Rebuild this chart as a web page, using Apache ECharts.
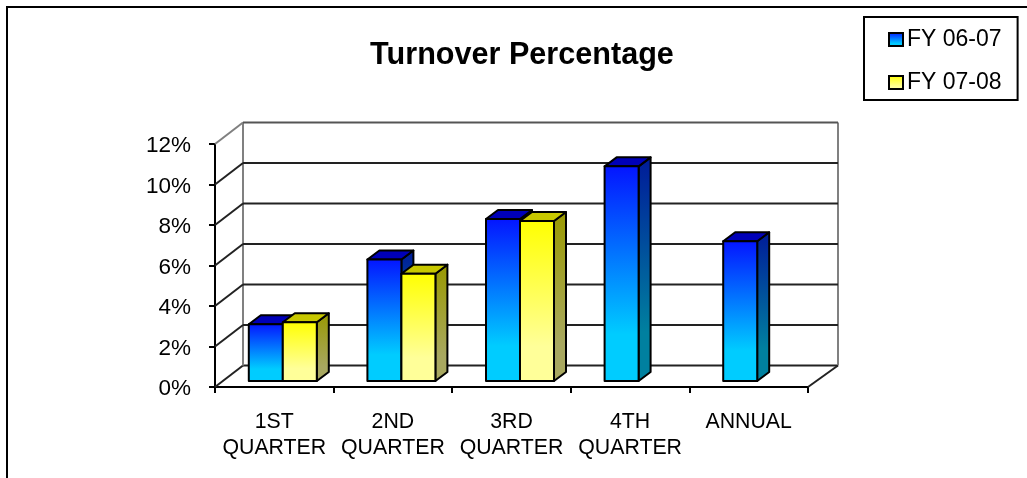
<!DOCTYPE html>
<html lang="en">
<head>
  <meta charset="UTF-8">
  <title>Turnover Percentage</title>
  <script src="https://cdn.jsdelivr.net/npm/echarts@6/dist/echarts.min.js"></script>
  <style>
    html, body { margin: 0; padding: 0; background: #fff; }
    #main { width: 1027px; height: 478px; }
  </style>
</head>
<body>
<div id="main"></div>
<script>
  let categories = ['1ST\nQUARTER', '2ND\nQUARTER', '3RD\nQUARTER', '4TH\nQUARTER', 'ANNUAL']
  let fy0607 = [2.8, 6.0, 8.0, 10.6, 6.9]
  let fy0708 = [2.9, 5.3, 7.9, null, null]
  let yTicks = [0, 2, 4, 6, 8, 10, 12]

  // 3d look, in pixels
  let wallDx = 28, wallDy = 21.5
  let barW = 34, barDx = 12, barDy = 9, barLift = 6, groupShift = 8.5

  function grad(c1, c2) {
    return {type: 'linear', x: 0, y: 0, x2: 0, y2: 1, colorStops: [{offset: 0, color: c1}, {offset: 0.78, color: c2}, {offset: 1, color: c2}]}
  }
  let blue = {front: grad('#0414ff', '#00ccff'), side: grad('#001a99', '#00809f'), top: '#0000b8'}
  let yellow = {front: grad('#ffff00', '#ffff99'), side: grad('#999900', '#a8a860'), top: '#c8c800'}

  function barRender(colors, slot) {
    return function (params, api) {
      let v = api.value(1)
      if (v == null || isNaN(v)) return
      let p = api.coord([api.value(0), v])
      let base = api.coord([api.value(0), 0])
      let x0 = p[0] + groupShift + (slot - 1) * barW
      let x1 = x0 + barW
      let yT = p[1] - barLift
      let yB = base[1] - barLift
      let line = {stroke: '#000', lineWidth: 2, lineJoin: 'round'}
      return {
        type: 'group',
        children: [
          {type: 'polygon', shape: {points: [[x1, yT], [x1 + barDx, yT - barDy], [x1 + barDx, yB - barDy], [x1, yB]]}, style: {fill: colors.side, ...line}},
          {type: 'polygon', shape: {points: [[x0, yT], [x0 + barDx, yT - barDy], [x1 + barDx, yT - barDy], [x1, yT]]}, style: {fill: colors.top, ...line}},
          {type: 'polygon', shape: {points: [[x0, yT], [x1, yT], [x1, yB], [x0, yB]]}, style: {fill: colors.front, ...line}}
        ]
      }
    }
  }

  // gridlines on the back wall plus the diagonals on the side wall
  function wallRender(params, api) {
    let v = api.value(0)
    let band = api.size([1, 0])[0]
    let n = categories.length
    let left = api.coord([0, v])[0] - band / 2
    let right = api.coord([n - 1, v])[0] + band / 2
    let y = api.coord([0, v])[1]
    let backY = y - wallDy
    let isTop = v === yTicks[yTicks.length - 1]
    let dark = {stroke: '#222', lineWidth: 2}
    let grey = {stroke: '#808080', lineWidth: 2}
    let children = [
      {type: 'line', shape: {x1: left, y1: y, x2: left + wallDx, y2: backY}, style: isTop ? grey : dark},
      {type: 'line', shape: {x1: left + wallDx, y1: backY, x2: right + wallDx + 2, y2: backY}, style: isTop ? {stroke: '#555', lineWidth: 2} : dark}
    ]
    if (v === 0) {
      let topY = api.coord([0, yTicks[yTicks.length - 1]])[1] - wallDy
      children.push({type: 'line', shape: {x1: left + wallDx, y1: backY, x2: left + wallDx, y2: topY}, style: grey})
      children.push({type: 'line', shape: {x1: right + wallDx + 2, y1: backY, x2: right + wallDx + 2, y2: topY}, style: grey})
      children.push({type: 'line', shape: {x1: right, y1: y, x2: right + wallDx + 2, y2: backY}, style: dark})
    }
    return {type: 'group', children: children}
  }

  let myChart = echarts.init(document.getElementById('main'))
  let fontName = '"Liberation Sans", Arial, sans-serif'
  let option = {
    animation: false,
    title: {
      text: 'Turnover Percentage',
      left: 517,
      top: 35,
      textAlign: 'center',
      textStyle: {fontFamily: fontName, fontSize: 30.6, fontWeight: 'bold', color: '#000'}
    },
    legend: {
      data: ['FY 06-07', 'FY 07-08'],
      orient: 'vertical',
      left: 864,
      top: 17,
      padding: [11, 16, 6, 24],
      itemWidth: 14,
      itemHeight: 13,
      itemGap: 20,
      itemStyle: {borderColor: '#000', borderWidth: 2},
      borderColor: '#000',
      borderWidth: 2,
      backgroundColor: '#fff',
      icon: 'rect',
      textStyle: {fontFamily: fontName, fontSize: 23, color: '#000', padding: [0, 0, 0, -1]}
    },
    grid: {left: 215, right: 219, top: 144, bottom: 91},
    xAxis: {
      type: 'category',
      data: categories,
      axisLine: {lineStyle: {color: '#000', width: 2}},
      axisTick: {show: true, length: 6, alignWithLabel: false, lineStyle: {color: '#000', width: 2}},
      axisLabel: {fontFamily: fontName, fontSize: 21.3, color: '#000', margin: 22, lineHeight: 26, interval: 0},
      splitLine: {show: false}
    },
    yAxis: {
      type: 'value',
      min: 0,
      max: 12,
      interval: 2,
      axisLine: {show: true, lineStyle: {color: '#000', width: 2}},
      axisTick: {show: true, length: 6, lineStyle: {color: '#000', width: 2}},
      axisLabel: {fontFamily: fontName, fontSize: 22.5, color: '#000', margin: 24, verticalAlign: 'top', lineHeight: 4, formatter: '{value}%'},
      splitLine: {show: false}
    },
    series: [
      {
        name: 'walls',
        type: 'custom',
        silent: true,
        clip: false,
        z: 1,
        renderItem: wallRender,
        encode: {y: 0},
        data: yTicks.map(v => [v])
      },
      {
        name: 'FY 06-07',
        type: 'custom',
        clip: false,
        z: 2,
        itemStyle: {color: blue.front},
        renderItem: barRender(blue, 0),
        encode: {x: 0, y: 1},
        data: fy0607.map((v, i) => [i, v])
      },
      {
        name: 'FY 07-08',
        type: 'custom',
        clip: false,
        z: 3,
        itemStyle: {color: yellow.front},
        renderItem: barRender(yellow, 1),
        encode: {x: 0, y: 1},
        data: fy0708.map((v, i) => [i, v])
      }
    ],
    graphic: [
      {type: 'polyline', z: 10, shape: {points: [[7, 478], [7, 7], [1027, 7]]}, style: {stroke: '#000', lineWidth: 2, fill: null}}
    ]
  }
  myChart.setOption(option)
</script>
</body>
</html>
